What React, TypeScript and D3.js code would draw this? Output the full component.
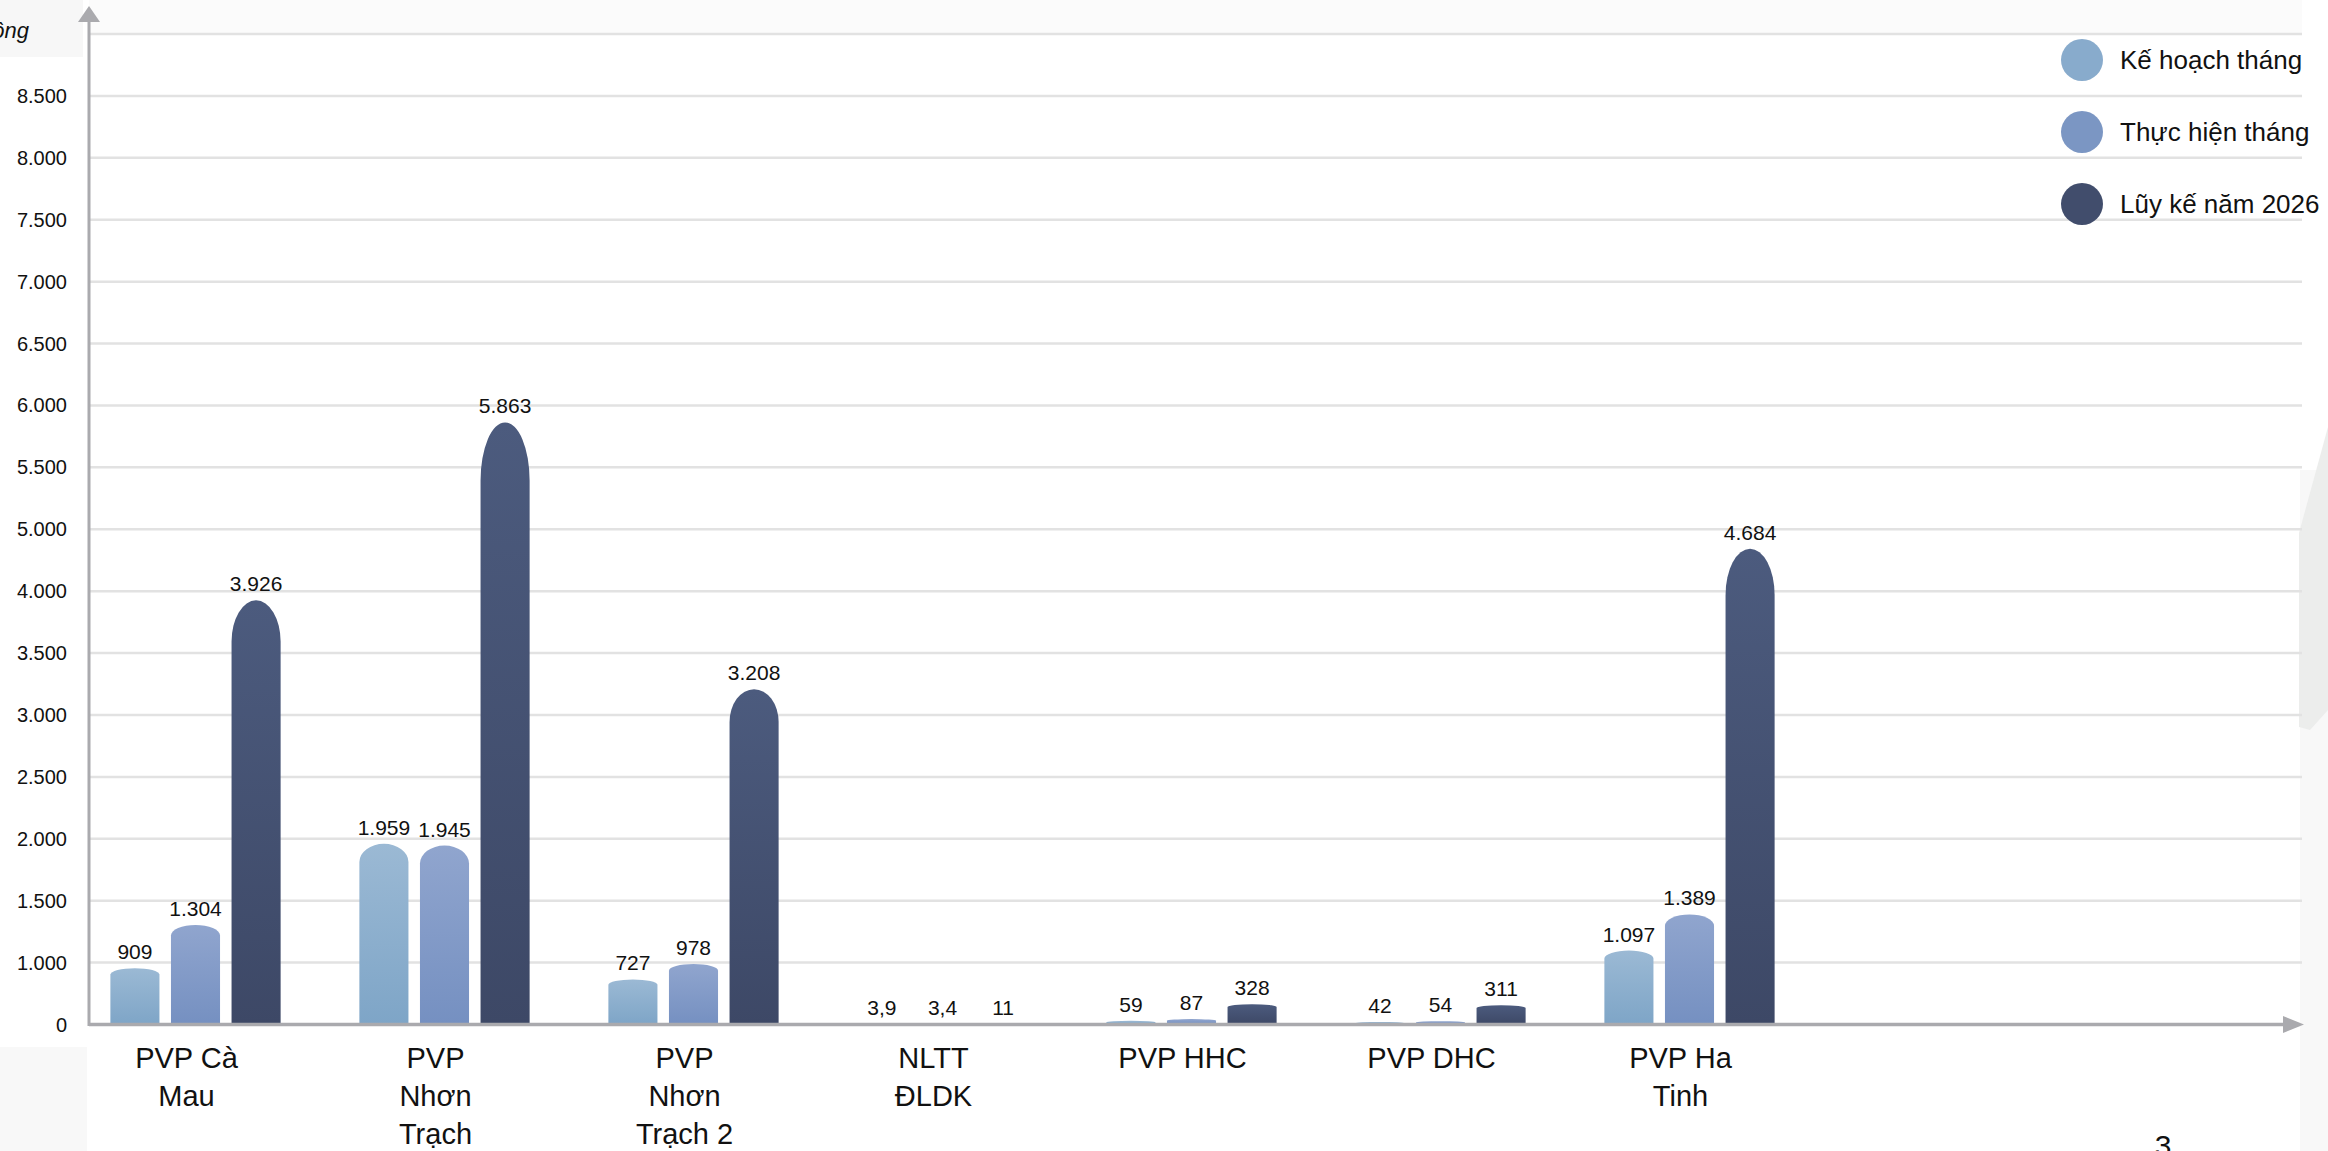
import { useEffect, useRef } from "react";
import * as d3 from "d3";

const CATEGORIES = ["PVP Cà Mau", "PVP Nhơn Trạch", "PVP Nhơn Trạch 2", "NLTT ĐLDK", "PVP HHC", "PVP DHC", "PVP Ha Tinh"];
const CATEGORY_LINES = [["PVP Cà", "Mau"], ["PVP", "Nhơn", "Trạch"], ["PVP", "Nhơn", "Trạch 2"], ["NLTT", "ĐLDK"], ["PVP HHC"], ["PVP DHC"], ["PVP Ha", "Tinh"]];
const SERIES = ["Kế hoạch tháng", "Thực hiện tháng", "Lũy kế năm 2026"];
const KE_HOACH = [909, 1959, 727, 3.9, 59, 42, 1097];
const THUC_HIEN = [1304, 1945, 978, 3.4, 87, 54, 1389];
const LUY_KE = [3926, 5863, 3208, 11, 328, 311, 4684];
// the axis in the source skips 500 and 4.500, gridlines are evenly spaced anyway
const GRID_VALUES = [0, 1000, 1500, 2000, 2500, 3000, 3500, 4000, 5000, 5500, 6000, 6500, 7000, 7500, 8000, 8500, 9000];
const UNIT = "Tỷ đồng";

const GRADS = [
  ["#9bb9d4", "#7ea5c7"],
  ["#90a5ce", "#7590c1"],
  ["#4c5b7e", "#3d4866"],
];
const LEGEND_COLORS = ["#88abcc", "#7b96c3", "#414d6c"];

const W = 2328;
const H = 1151;
const FONT = "'Liberation Sans', Arial, sans-serif";

const vi = d3.formatLocale({ decimal: ",", thousands: ".", grouping: [3], currency: ["", "đ"] });
const fmt = vi.format(",~g");

export default function App() {
  const svgRef = useRef<SVGSVGElement>(null);

  useEffect(() => {
    if (!svgRef.current) return;
    const svg = d3.select(svgRef.current);
    svg.selectAll("*").remove();

    const axisX = 89;
    const baseY = 1024.5;
    const topY = 34;
    const gridRight = 2302;

    // background bits of the slide
    svg.append("rect").attr("width", W).attr("height", H).attr("fill", "#ffffff");
    svg.append("rect").attr("x", axisX).attr("y", 0).attr("width", gridRight - axisX).attr("height", topY - 1).attr("fill", "#fbfbfb");
    svg.append("rect").attr("x", 0).attr("y", 1047).attr("width", 87).attr("height", H - 1047).attr("fill", "#f8f8f8");
    svg.append("rect").attr("x", 2300).attr("y", 470).attr("width", W - 2300).attr("height", H - 470).attr("fill", "#f8f8f8");
    svg.append("polygon")
      .attr("points", "2328,427 2299,533 2299,727 2310,730 2328,710")
      .attr("fill", "#ecedec");

    const posScale = d3.scalePoint<number>().domain(GRID_VALUES).range([baseY, topY]);
    const y = d3.scaleLinear().domain(GRID_VALUES).range(GRID_VALUES.map((v) => posScale(v) ?? 0));

    const x0 = d3.scaleBand<string>().domain(CATEGORIES).range([71, 1814]).padding(0);
    const x1 = d3.scaleBand<number>().domain([0, 1, 2]).range([0, x0.bandwidth()]).paddingInner(0.19).paddingOuter(0.65);

    const defs = svg.append("defs");
    GRADS.forEach(([top, bottom], i) => {
      const lg = defs.append("linearGradient").attr("id", `bar-grad-${i}`).attr("x1", 0).attr("x2", 0).attr("y1", 0).attr("y2", 1);
      lg.append("stop").attr("offset", "0%").attr("stop-color", top);
      lg.append("stop").attr("offset", "100%").attr("stop-color", bottom);
    });

    // gridlines
    svg.append("g")
      .selectAll("line")
      .data(GRID_VALUES.slice(1))
      .join("line")
      .attr("x1", axisX).attr("x2", gridRight)
      .attr("y1", (d) => y(d)).attr("y2", (d) => y(d))
      .attr("stroke", "#e2e2e2").attr("stroke-width", 2.5);

    // tick labels (top one sits under the unit box)
    svg.append("g")
      .selectAll("text")
      .data(GRID_VALUES.slice(0, -1))
      .join("text")
      .attr("x", 67)
      .attr("y", (d) => y(d) + 7)
      .attr("text-anchor", "end")
      .attr("font-family", FONT).attr("font-size", 20).attr("fill", "#111")
      .text((d) => fmt(d));

    svg.append("rect").attr("x", 0).attr("y", 0).attr("width", 83).attr("height", 57).attr("fill", "#f7f7f7");
    svg.append("text")
      .attr("x", 29).attr("y", 38)
      .attr("text-anchor", "end")
      .attr("font-family", FONT).attr("font-size", 22).attr("font-style", "italic").attr("fill", "#111")
      .text(UNIT);

    const seriesData = [KE_HOACH, THUC_HIEN, LUY_KE];
    const rows = CATEGORIES.flatMap((c, ci) => seriesData.map((s, si) => ({ cat: c, ci, si, v: s[ci] })));

    const barPath = (d: { cat: string; si: number; v: number }) => {
      const bx = (x0(d.cat) ?? 0) + (x1(d.si) ?? 0);
      const bw = x1.bandwidth();
      const top = y(d.v);
      const h = baseY - top;
      const ry = Math.min(h, h * 0.095 + 1);
      return `M${bx},${baseY}L${bx},${top + ry}A${bw / 2},${ry} 0 0 1 ${bx + bw},${top + ry}L${bx + bw},${baseY}Z`;
    };

    svg.append("g")
      .selectAll("path")
      .data(rows)
      .join("path")
      .attr("d", barPath)
      .attr("fill", (d) => `url(#bar-grad-${d.si})`);

    svg.append("g")
      .selectAll("text")
      .data(rows)
      .join("text")
      .attr("x", (d) => (x0(d.cat) ?? 0) + (x1(d.si) ?? 0) + x1.bandwidth() / 2)
      .attr("y", (d) => y(d.v) - 9)
      .attr("text-anchor", "middle")
      .attr("font-family", FONT).attr("font-size", 21).attr("fill", "#111")
      .text((d) => fmt(d.v));

    // axes with arrow heads
    const axisColor = "#aaaaae";
    svg.append("line").attr("x1", axisX).attr("x2", 2285).attr("y1", baseY).attr("y2", baseY)
      .attr("stroke", axisColor).attr("stroke-width", 3.5);
    svg.append("polygon").attr("points", `2304,${baseY} 2283,${baseY - 8.5} 2283,${baseY + 8.5}`).attr("fill", axisColor);
    svg.append("line").attr("x1", axisX).attr("x2", axisX).attr("y1", baseY + 1.5).attr("y2", 20)
      .attr("stroke", axisColor).attr("stroke-width", 3);
    svg.append("polygon").attr("points", `${axisX},6 ${axisX - 11},22 ${axisX + 11},22`).attr("fill", axisColor);

    // category labels
    const lab = svg.append("g")
      .selectAll("text")
      .data(CATEGORIES)
      .join("text")
      .attr("text-anchor", "middle")
      .attr("font-family", FONT).attr("font-size", 29).attr("fill", "#111");
    lab.each(function (c, i) {
      const cx = (x0(c) ?? 0) + x0.bandwidth() / 2 - 9;
      d3.select(this)
        .selectAll("tspan")
        .data(CATEGORY_LINES[i])
        .join("tspan")
        .attr("x", cx)
        .attr("y", (_, li) => 1068 + li * 38)
        .text((t) => t);
    });

    // legend
    const leg = svg.append("g")
      .selectAll("g")
      .data(SERIES)
      .join("g")
      .attr("transform", (_, i) => `translate(2082,${60 + i * 72})`);
    leg.append("circle").attr("r", 21).attr("fill", (_, i) => LEGEND_COLORS[i]);
    leg.append("text")
      .attr("x", 38).attr("y", 9)
      .attr("font-family", FONT).attr("font-size", 26).attr("fill", "#111")
      .text((d) => d);

    // slide number
    svg.append("text")
      .attr("x", 2163).attr("y", 1156)
      .attr("text-anchor", "middle")
      .attr("font-family", FONT).attr("font-size", 30).attr("fill", "#111")
      .text("3");
  }, []);

  return (
    <div style={{ position: "absolute", left: 0, top: 0, width: W, height: H, overflow: "hidden" }}>
      <svg ref={svgRef} width={W} height={H} role="img" aria-label="Biểu đồ cột kế hoạch, thực hiện và lũy kế theo đơn vị" />
    </div>
  );
}
